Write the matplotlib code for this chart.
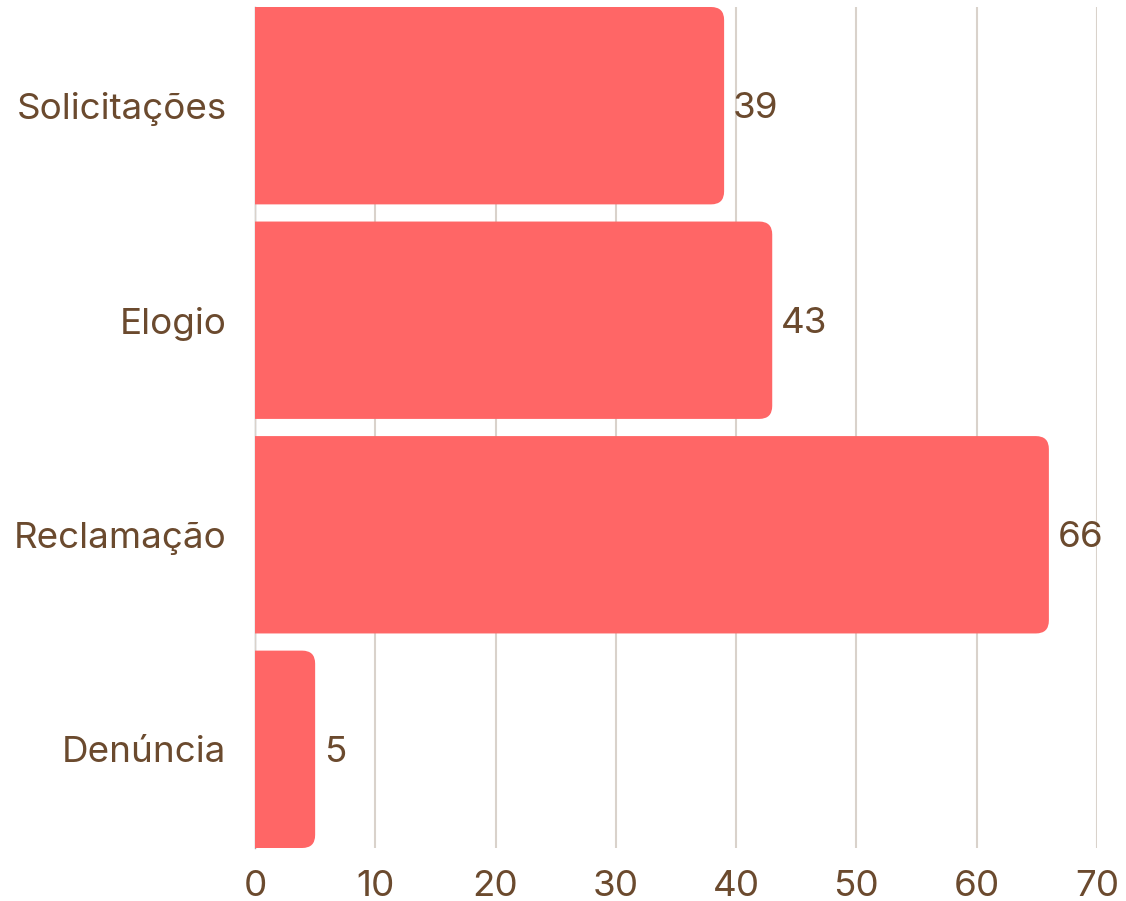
import matplotlib
matplotlib.use("Agg")
import matplotlib.pyplot as plt
from matplotlib.path import Path
from matplotlib.patches import PathPatch

categories = ["Solicitações", "Elogio", "Reclamação", "Denúncia"]
values = [39, 43, 66, 5]
xticks = [0, 10, 20, 30, 40, 50, 60, 70]

bar_color = "#FF6666"
text_color = "#6B4A2E"
grid_color = "#D9D2CB"

plt.rcParams['font.family'] = ['Inter', 'DejaVu Sans']

W, H = 1126, 901
fig = plt.figure(figsize=(W / 100, H / 100), dpi=100)
ax = fig.add_axes([255 / W, (H - 848) / H, (1097 - 255) / W, (848 - 7) / H])

ypos = list(range(len(categories)))
bh = 0.92
bars = ax.barh(ypos, values, height=bh, color=bar_color, zorder=3)
ax.set_xlim(0, 70)
ax.set_ylim(len(categories) - 1 + bh / 2, -bh / 2)

# rounded right corners
px_per_x = (1097 - 255) / 70.0
px_per_y = (848 - 7) / (len(categories) - 1 + bh)
r_px = 13
rx = r_px / px_per_x
ry = r_px / px_per_y
for b in bars:
    x0, y0 = b.get_x(), b.get_y()
    w, h = b.get_width(), b.get_height()
    x1, y1 = x0 + w, y0 + h
    verts = [
        (x0, y0),
        (x1 - rx, y0),
        (x1, y0), (x1, y0 + ry),
        (x1, y1 - ry),
        (x1, y1), (x1 - rx, y1),
        (x0, y1),
        (x0, y0),
    ]
    codes = [Path.MOVETO, Path.LINETO, Path.CURVE3, Path.CURVE3, Path.LINETO,
             Path.CURVE3, Path.CURVE3, Path.LINETO, Path.CLOSEPOLY]
    patch = PathPatch(Path(verts, codes), facecolor=bar_color, edgecolor='none', zorder=3)
    ax.add_patch(patch)
    b.remove()

for y, v in zip(ypos, values):
    ax.annotate(str(v), xy=(v, y), xytext=(6.5, -2.2), textcoords='offset points',
                ha='left', va='center', fontsize=26.5, color=text_color, zorder=4)

ax.set_xticks(xticks)
ax.set_xticklabels([str(t) for t in xticks])
ax.set_yticks(ypos)
ax.set_yticklabels(categories)
ax.tick_params(axis='x', length=0, pad=16, labelsize=26.5, labelcolor=text_color)
ax.tick_params(axis='y', length=0, pad=20.5, labelsize=26.5, labelcolor=text_color)

ax.grid(axis='x', color=grid_color, linewidth=1.5, zorder=0)
ax.grid(axis='y', visible=False)
for s in ['top', 'right', 'bottom']:
    ax.spines[s].set_visible(False)
ax.spines['left'].set_color('#A8A8A8')
ax.spines['left'].set_linewidth(1.0)
ax.spines['left'].set_zorder(1)

fig.savefig("out.png", dpi=100, facecolor='white')
